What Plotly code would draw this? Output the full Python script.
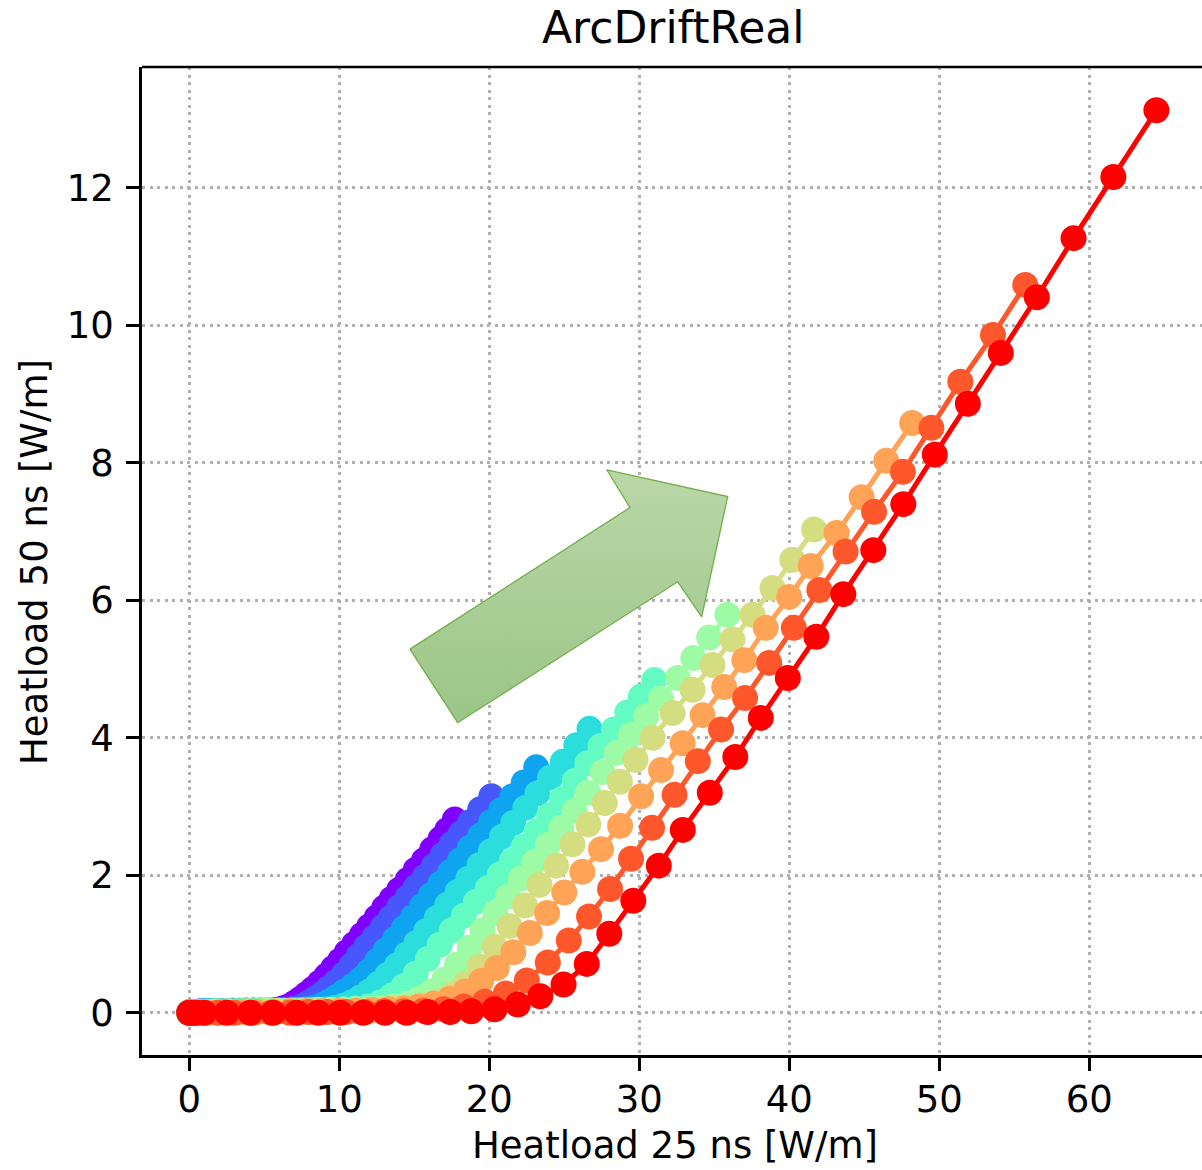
import plotly.graph_objects as go

# 25 ns heat load (x) and 50 ns heat load (y) in W/m, one pair of lists per scan
hl25_0 = [0.0, 0.05, 0.15, 0.35, 0.65, 1.0, 1.4, 1.8, 2.2, 2.6, 3.0, 3.4, 3.8, 4.2, 4.6, 5.0, 5.4,
          5.8, 6.2, 6.6, 7.0, 7.4, 7.8, 8.25, 8.7, 9.15, 9.6, 10.05, 10.5, 11.0, 11.5, 12.0, 12.5,
          13.0, 13.5, 14.0, 14.55, 15.1, 15.65, 16.2, 16.75, 17.2, 17.7]
hl50_0 = [0.0, 0.0, 0.01, 0.01, 0.01, 0.01, 0.02, 0.02, 0.02, 0.02, 0.02, 0.02, 0.03, 0.03, 0.03, 0.03, 0.03,
          0.04, 0.06, 0.09, 0.14, 0.2, 0.27, 0.35, 0.44, 0.54, 0.65, 0.76, 0.88, 1.0, 1.13, 1.26, 1.39,
          1.53, 1.66, 1.79, 1.93, 2.08, 2.22, 2.38, 2.53, 2.66, 2.81]

hl25_1 = [0.0, 0.05, 0.18, 0.4, 0.75, 1.15, 1.6, 2.05, 2.5, 2.95, 3.4, 3.85, 4.3, 4.75, 5.2, 5.65, 6.1,
          6.55, 7.0, 7.45, 7.9, 8.35, 8.8, 9.3, 9.8, 10.3, 10.8, 11.3, 11.8, 12.35, 12.9, 13.45, 14.0,
          14.55, 15.1, 15.7, 16.3, 16.9, 17.5, 18.1, 18.7, 19.4, 20.14]
hl50_1 = [0.0, 0.01, 0.01, 0.01, 0.02, 0.02, 0.02, 0.02, 0.02, 0.03, 0.03, 0.03, 0.03, 0.03, 0.03, 0.03, 0.04,
          0.04, 0.06, 0.09, 0.14, 0.2, 0.27, 0.36, 0.45, 0.56, 0.69, 0.83, 0.96, 1.1, 1.25, 1.39, 1.54,
          1.68, 1.83, 1.98, 2.14, 2.3, 2.46, 2.61, 2.77, 2.96, 3.15]

hl25_2 = [0.0, 0.06, 0.2, 0.45, 0.85, 1.3, 1.8, 2.3, 2.8, 3.3, 3.8, 4.3, 4.8, 5.3, 5.8, 6.3, 6.8, 7.3,
          7.8, 8.3, 8.8, 9.3, 9.8, 10.35, 10.9, 11.45, 12.0, 12.55, 13.1, 13.7, 14.3, 14.9, 15.5, 16.1,
          16.75, 17.4, 18.05, 18.7, 19.4, 20.1, 20.8, 21.55, 22.3, 23.13]
hl50_2 = [0.0, 0.01, 0.01, 0.01, 0.02, 0.02, 0.02, 0.02, 0.02, 0.03, 0.03, 0.03, 0.03, 0.03, 0.03, 0.03, 0.04, 0.04,
          0.05, 0.07, 0.11, 0.16, 0.23, 0.31, 0.39, 0.49, 0.61, 0.76, 0.91, 1.07, 1.23, 1.39, 1.55, 1.71,
          1.88, 2.05, 2.22, 2.4, 2.58, 2.77, 2.95, 3.15, 3.35, 3.57]

hl25_3 = [0.0, 0.07, 0.22, 0.5, 0.95, 1.45, 2.0, 2.55, 3.1, 3.65, 4.2, 4.75, 5.3, 5.85, 6.4, 6.95, 7.5, 8.05, 8.6,
          9.15, 9.7, 10.25, 10.8, 11.4, 12.0, 12.6, 13.2, 13.85, 14.5, 15.15, 15.8, 16.5, 17.2, 17.9,
          18.6, 19.35, 20.1, 20.85, 21.6, 22.4, 23.2, 24.05, 24.9, 25.8, 26.68]
hl50_3 = [0.0, 0.01, 0.01, 0.01, 0.02, 0.02, 0.02, 0.02, 0.02, 0.03, 0.03, 0.03, 0.03, 0.03, 0.03, 0.03, 0.04, 0.04, 0.04,
          0.05, 0.07, 0.1, 0.15, 0.22, 0.31, 0.42, 0.55, 0.69, 0.85, 1.02, 1.19, 1.38, 1.57, 1.76,
          1.95, 2.15, 2.35, 2.56, 2.76, 2.98, 3.19, 3.42, 3.65, 3.89, 4.13]

hl25_4 = [0.0, 0.1, 0.45, 1.0, 1.65, 2.35, 3.1, 3.9, 4.7, 5.5, 6.3, 7.1, 7.9, 8.7, 9.5, 10.3, 11.1, 11.9,
          12.7, 13.5, 14.3, 15.1, 15.9, 16.7, 17.5, 18.3, 19.1, 19.9, 20.7, 21.5, 22.3, 23.15, 24.0,
          24.85, 25.7, 26.55, 27.42, 28.3, 29.2, 30.1, 31.0]
hl50_4 = [0.0, 0.01, 0.01, 0.01, 0.02, 0.02, 0.02, 0.02, 0.03, 0.03, 0.03, 0.03, 0.03, 0.04, 0.04, 0.05, 0.06, 0.09,
          0.15, 0.25, 0.39, 0.57, 0.78, 0.99, 1.2, 1.41, 1.61, 1.81, 2.01, 2.21, 2.42, 2.64, 2.87,
          3.11, 3.37, 3.63, 3.88, 4.12, 4.37, 4.6, 4.84]

hl25_5 = [0.0, 0.15, 0.55, 1.15, 1.85, 2.6, 3.4, 4.25, 5.1, 5.95, 6.8, 7.65, 8.5, 9.35, 10.2, 11.05,
          11.9, 12.75, 13.6, 14.45, 15.3, 16.15, 17.0, 17.85, 18.7, 19.55, 20.4, 21.25, 22.1, 23.0,
          23.9, 24.8, 25.7, 26.6, 27.55, 28.5, 29.45, 30.45, 31.45, 32.56, 33.6, 34.66, 35.88]
hl50_5 = [0.0, 0.01, 0.01, 0.01, 0.02, 0.02, 0.02, 0.02, 0.03, 0.03, 0.03, 0.03, 0.04, 0.04, 0.04, 0.05,
          0.06, 0.07, 0.09, 0.13, 0.2, 0.31, 0.48, 0.7, 0.95, 1.2, 1.45, 1.69, 1.95, 2.19,
          2.44, 2.69, 2.94, 3.2, 3.5, 3.78, 4.04, 4.31, 4.57, 4.87, 5.16, 5.46, 5.79]

hl25_6 = [0.0, 0.15, 0.6, 1.3, 2.1, 3.0, 3.9, 4.8, 5.7, 6.6, 7.5, 8.4, 9.3, 10.2, 11.1, 12.0, 12.9,
          13.8, 14.7, 15.6, 16.5, 17.45, 18.4, 19.36, 20.36, 21.36, 22.38, 23.35, 24.45, 25.55, 26.6,
          27.7, 28.7, 29.75, 30.89, 32.22, 33.55, 34.88, 36.21, 37.55, 38.88, 40.2, 41.65]
hl50_6 = [0.0, 0.0, 0.01, 0.01, 0.01, 0.01, 0.02, 0.02, 0.02, 0.02, 0.02, 0.03, 0.03, 0.03, 0.03, 0.04, 0.05,
          0.06, 0.08, 0.11, 0.16, 0.26, 0.42, 0.67, 0.96, 1.26, 1.56, 1.86, 2.14, 2.45, 2.74,
          3.05, 3.36, 3.68, 4.0, 4.36, 4.7, 5.06, 5.43, 5.79, 6.18, 6.59, 7.03]

hl25_7 = [0.0, 0.5, 1.3, 2.3, 3.4, 4.5, 5.6, 6.7, 7.8, 8.9, 10.0, 11.1, 12.2, 13.3, 14.3, 15.3, 16.3,
          17.35, 18.4, 19.45, 20.5, 21.6, 22.7, 23.85, 25.0, 26.2, 27.45, 28.72, 30.12, 31.45, 32.89,
          34.22, 35.66, 37.0, 38.43, 39.99, 41.43, 43.15, 44.82, 46.46, 48.19]
hl50_7 = [0.0, 0.0, 0.0, 0.01, 0.01, 0.01, 0.01, 0.02, 0.02, 0.02, 0.03, 0.03, 0.04, 0.05, 0.06, 0.09, 0.13,
          0.2, 0.31, 0.46, 0.65, 0.88, 1.16, 1.45, 1.75, 2.05, 2.38, 2.72, 3.15, 3.53, 3.92,
          4.33, 4.74, 5.13, 5.6, 6.05, 6.5, 6.98, 7.5, 8.03, 8.58]

hl25_8 = [0.0, 0.35, 0.85, 1.9, 3.0, 4.2, 5.45, 6.7, 7.95, 9.2, 10.45, 11.7, 13.0, 14.3, 15.6, 16.95,
          18.3, 19.7, 21.1, 22.5, 23.9, 25.3, 26.65, 28.05, 29.45, 30.85, 32.35, 33.9, 35.45, 37.05,
          38.66, 40.3, 42.0, 43.75, 45.65, 47.57, 49.47, 51.4, 53.58, 55.73]
hl50_8 = [0.0, 0.0, 0.0, 0.0, 0.0, 0.0, 0.0, 0.0, 0.01, 0.01, 0.01, 0.01, 0.02, 0.02, 0.03, 0.05,
          0.09, 0.16, 0.28, 0.47, 0.73, 1.05, 1.4, 1.8, 2.24, 2.69, 3.17, 3.66, 4.12, 4.58,
          5.09, 5.6, 6.15, 6.71, 7.29, 7.87, 8.51, 9.18, 9.86, 10.59]

hl25_9 = [0.0, 0.15, 0.45, 1.0, 2.5, 4.06, 5.6, 7.17, 8.6, 10.05, 11.6, 13.05, 14.5, 15.9, 17.4, 18.8,
          20.35, 21.9, 23.4, 24.95, 26.5, 28.0, 29.6, 31.3, 32.9, 34.7, 36.4, 38.1, 39.9, 41.8,
          43.6, 45.6, 47.6, 49.7, 51.9, 54.1, 56.5, 58.95, 61.6, 64.47]
hl50_9 = [0.0, 0.0, 0.0, 0.0, 0.0, 0.0, 0.0, 0.0, 0.0, 0.0, 0.0, 0.0, 0.0, 0.01, 0.01, 0.02,
          0.05, 0.12, 0.24, 0.41, 0.71, 1.15, 1.63, 2.14, 2.66, 3.2, 3.72, 4.29, 4.87, 5.47,
          6.09, 6.73, 7.4, 8.12, 8.86, 9.6, 10.41, 11.27, 12.16, 13.13]

x_ticks = [0, 10, 20, 30, 40, 50, 60]
y_ticks = [0, 2, 4, 6, 8, 10, 12]

title_text = "ArcDriftReal"
x_label = "Heatload 25 ns [W/m]"
y_label = "Heatload 50 ns [W/m]"

# ---- styling ----
curves = [(hl25_0, hl50_0), (hl25_1, hl50_1), (hl25_2, hl50_2), (hl25_3, hl50_3), (hl25_4, hl50_4),
          (hl25_5, hl50_5), (hl25_6, hl50_6), (hl25_7, hl50_7), (hl25_8, hl50_8), (hl25_9, hl50_9)]
rainbow = ["#8000ff", "#4757fb", "#0ea4f0", "#2bdddd", "#63fbc3",
           "#9cfba4", "#d4dd80", "#ffa457", "#ff572c", "#ff0000"]

FONT = "DejaVu Sans"
W, H = 1202, 1170
L, R, T, B = 142, 0, 67, 115

fig = go.Figure()

for (xs, ys), col in zip(curves, rainbow):
    fig.add_trace(go.Scatter(
        x=xs, y=ys, mode="lines+markers",
        line=dict(color=col, width=5),
        marker=dict(color=col, size=26, line=dict(width=0)),
        showlegend=False, hoverinfo="skip",
    ))

# decorative block arrow showing the drift direction (outline in axis units)
arrow_x = [14.71, 17.89, 32.56, 34.16, 35.89, 27.83, 29.38, 14.71]
arrow_y = [5.29, 4.22, 6.27, 5.76, 7.51, 7.90, 7.35, 5.29]
fig.add_trace(go.Scatter(
    x=arrow_x, y=arrow_y, mode="lines", fill="toself",
    line=dict(color="#74ad4c", width=1.3),
    fillgradient=dict(type="vertical",
                      colorscale=[[0, "#9bc587"], [1, "#bad7a8"]]),
    showlegend=False, hoverinfo="skip",
))

axis_common = dict(
    showline=True, linecolor="black", linewidth=2.5, mirror=False,
    ticks="outside", ticklen=13, tickwidth=2.5, tickcolor="black",
    tickfont=dict(family=FONT, size=37, color="black"),
    showgrid=True, gridcolor="#b0b0b0", gridwidth=2.5, griddash="3px,4.5px",
    zeroline=False,
)

fig.update_xaxes(range=[-3.15, 67.51], tickmode="array", tickvals=x_ticks,
                 ticktext=[str(v) for v in x_ticks], ticklabelstandoff=-3, **axis_common)
fig.update_yaxes(range=[-0.615, 13.76], tickmode="array", tickvals=y_ticks,
                 ticktext=[str(v) for v in y_ticks], ticklabelstandoff=5, **axis_common)

plot_w = W - L - R
plot_h = H - T - B

def px_x(p):
    return (p - L) / plot_w

def px_y(p):
    return (H - B - p) / plot_h

fig.add_shape(type="line", xref="paper", yref="paper", x0=0, x1=1, y0=1, y1=1,
              line=dict(color="black", width=2.5), layer="above")

fig.add_annotation(text=title_text, xref="paper", yref="paper",
                   x=px_x(673), y=px_y(28), xanchor="center", yanchor="middle",
                   showarrow=False, font=dict(family=FONT, size=44, color="black"))
fig.add_annotation(text=x_label, xref="paper", yref="paper",
                   x=px_x(675), y=px_y(1169), xanchor="center", yanchor="bottom",
                   showarrow=False, font=dict(family=FONT, size=37, color="black"))
fig.add_annotation(text=y_label, xref="paper", yref="paper", textangle=-90,
                   x=px_x(34), y=px_y(562), xanchor="center", yanchor="middle",
                   showarrow=False, font=dict(family=FONT, size=37, color="black"))

fig.update_layout(
    width=W, height=H,
    margin=dict(l=L, r=R, t=T, b=B, pad=0),
    plot_bgcolor="white", paper_bgcolor="white",
    font=dict(family=FONT, color="black"),
    showlegend=False,
)

fig.write_html("out.html")
